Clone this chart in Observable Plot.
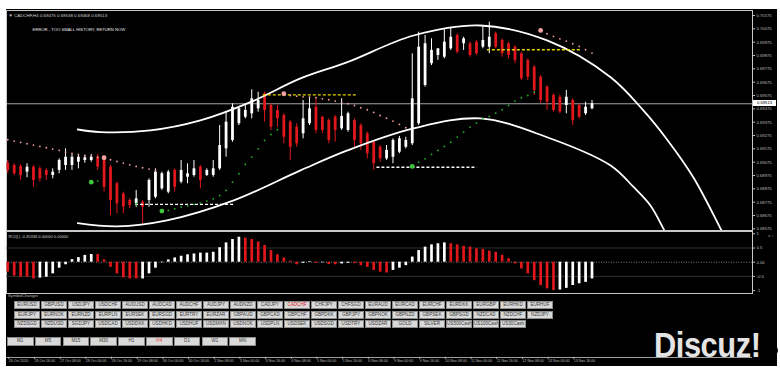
<!DOCTYPE html>
<html><head><meta charset="utf-8">
<script src="https://cdn.jsdelivr.net/npm/d3@7"></script>
<script src="https://cdn.jsdelivr.net/npm/@observablehq/plot@0.6"></script>
<style>
html,body{margin:0;padding:0;background:#fff;}
#root{position:relative;width:780px;height:370px;overflow:hidden;background:#fff;font-family:"Liberation Sans",Arial,sans-serif;}
#win{position:absolute;left:6px;top:9px;width:771px;height:357px;background:#000;}
.abs{position:absolute;}
.btn{position:absolute;box-sizing:border-box;background:#d9d9d9;border:1px solid #8c8c8c;color:#3a3a3a;font-size:4.6px;text-align:center;white-space:nowrap;overflow:hidden;}
</style></head><body>
<div id="root">
  <div id="win"></div>
  <div id="main" class="abs" style="left:6px;top:10px"></div>
  <div id="ind" class="abs" style="left:6px;top:231px"></div>
  <div id="time" class="abs" style="left:6px;top:356px"></div>
  <div id="sc" class="abs" style="left:8px;top:293px;color:#b8b8b8;font-size:4.2px">SymbolChanger</div>
  <div id="wm" class="abs" style="left:654px;top:325px;font:bold 35px 'Liberation Sans',Arial,sans-serif;color:#e4e4e4;transform:scaleX(0.88);transform-origin:left top;letter-spacing:-0.5px">Discuz!</div>
  <div class="abs" style="left:769px;top:346px;width:9px;height:9px;border-radius:50%;background:#000"></div>
</div>
<script>
// ---------- data ----------
const symbolName = "CADCHF,H4";
const open = [0.69067,0.69050,0.69043,0.69000,0.69037,0.69025,0.69013,0.68975,0.69013,0.69050,
0.69050,0.69075,0.69088,0.69088,0.69112,0.69100,0.69037,0.68913,0.68838,0.68788,
0.68763,0.68775,0.68788,0.68812,0.68875,0.68850,0.69013,0.68925,0.68962,0.68975,
0.69037,0.68975,0.68975,0.69025,0.69175,0.69238,0.69363,0.69412,0.69438,0.69475,
0.69588,0.69500,0.69463,0.69425,0.69375,0.69337,0.69288,0.69363,0.69487,0.69412,
0.69388,0.69412,0.69325,0.69313,0.69388,0.69350,0.69288,0.69225,0.69187,0.69100,
0.69112,0.69150,0.69187,0.69213,0.69363,0.69650,0.69813,0.69875,0.69862,0.69925,
0.70025,0.69963,0.69963,0.69975,0.69937,0.69937,0.70038,0.69988,0.69963,0.69937,
0.69888,0.69838,0.69787,0.69712,0.69637,0.69575,0.69562,0.69500,0.69538,0.69500,
0.69438,0.69475];
const high = [0.69088,0.69063,0.69058,0.69063,0.69050,0.69037,0.69025,0.69025,0.69100,0.69175,
0.69130,0.69125,0.69125,0.69133,0.69133,0.69112,0.69050,0.68925,0.68850,0.68800,
0.68863,0.68788,0.68950,0.69025,0.69000,0.69013,0.69025,0.69088,0.69063,0.69088,
0.69050,0.69025,0.69088,0.69350,0.69450,0.69513,0.69487,0.69513,0.69618,0.69600,
0.69600,0.69513,0.69500,0.69438,0.69388,0.69363,0.69538,0.69562,0.69550,0.69418,
0.69400,0.69425,0.69550,0.69450,0.69400,0.69363,0.69300,0.69238,0.69200,0.69200,
0.69250,0.69268,0.69262,0.69888,0.70050,0.70025,0.70000,0.69925,0.70075,0.70087,
0.70038,0.70012,0.69975,0.69988,0.70087,0.70125,0.70050,0.70000,0.69975,0.69950,
0.69900,0.69850,0.69800,0.69725,0.69650,0.69588,0.69575,0.69613,0.69550,0.69513,
0.69525,0.69538];
const low = [0.68988,0.68975,0.68938,0.68958,0.68887,0.68925,0.68938,0.68950,0.68988,0.69013,
0.69013,0.69025,0.69067,0.69075,0.69013,0.68850,0.68675,0.68688,0.68688,0.68725,
0.68737,0.68613,0.68737,0.68800,0.68863,0.68838,0.68850,0.68913,0.68913,0.68962,
0.68875,0.68968,0.68962,0.69013,0.69112,0.69225,0.69350,0.69400,0.69400,0.69450,
0.69375,0.69313,0.69337,0.69213,0.69088,0.69187,0.69250,0.69350,0.69288,0.69288,
0.69213,0.69225,0.69313,0.69300,0.69187,0.69163,0.69100,0.69013,0.69075,0.69088,
0.69063,0.69138,0.69175,0.69200,0.69350,0.69637,0.69800,0.69838,0.69850,0.69913,
0.69888,0.69913,0.69862,0.69875,0.69925,0.69888,0.69925,0.69862,0.69850,0.69813,
0.69688,0.69688,0.69575,0.69513,0.69463,0.69450,0.69438,0.69438,0.69350,0.69400,
0.69425,0.69468];
const close = [0.69013,0.68988,0.68975,0.69037,0.68938,0.68950,0.68975,0.69000,0.69088,0.69112,
0.69112,0.69112,0.69108,0.69112,0.69037,0.68887,0.68788,0.68763,0.68737,0.68750,
0.68800,0.68737,0.68938,0.69000,0.68988,0.69000,0.68887,0.69013,0.68988,0.69025,
0.68938,0.69013,0.69025,0.69200,0.69375,0.69487,0.69475,0.69463,0.69550,0.69538,
0.69463,0.69337,0.69400,0.69262,0.69187,0.69213,0.69400,0.69475,0.69313,0.69313,
0.69238,0.69313,0.69418,0.69438,0.69238,0.69213,0.69138,0.69063,0.69100,0.69163,
0.69238,0.69250,0.69238,0.69550,0.69937,0.69963,0.69913,0.69925,0.69975,0.70012,
0.69900,0.70000,0.69875,0.69888,0.69988,0.70012,0.69937,0.69888,0.69875,0.69838,
0.69700,0.69712,0.69613,0.69538,0.69525,0.69463,0.69450,0.69562,0.69388,0.69412,
0.69487,0.69513];

const priceTicks = [0.70175,0.70075,0.69975,0.69875,0.69775,0.69675,0.69575,0.69475,0.69375,
0.69275,0.69175,0.69075,0.68975,0.68875,0.68775,0.68675,0.68575];

// regression channel curves (bar index, price)
const upperBars = [10.9,14.4,22.2,30.0,37.8,45.6,52.9,63.2,73.6,84.0,93.9,99.0,102.8,106.8,111.0,112.2];
const upperPrice = [0.69320,0.69300,0.69313,0.69388,0.69525,0.69703,0.69825,0.70025,0.70100,0.69988,0.69712,0.69463,0.69238,0.68960,0.68578,0.68460];
const lowerBars = [10.9,17.0,24.8,35.2,45.6,52.9,63.2,73.6,84.0,93.9,97.5,100.1,102.1,103.0];
const lowerPrice = [0.68617,0.68593,0.68638,0.68788,0.69013,0.69163,0.69328,0.69403,0.69262,0.69050,0.68887,0.68750,0.68578,0.68490];

// trailing stop dots
const pinkBars = [0,1,2,3,4,5,6,7,8,9,10,11,12,13,14,15,16,17,18,19,20,21,22,23,
43,44,45,46,47,48,49,50,51,52,53,54,55,56,57,58,59,60,61,62,
83,84,85,86,87,88,89,90,91];
const pinkPrice = [0.69243,0.69233,0.69223,0.69213,0.69203,0.69193,0.69183,0.69173,0.69163,0.69150,
0.69140,0.69133,0.69125,0.69120,0.69113,0.69108,0.69093,0.69080,0.69068,0.69055,0.69043,0.69033,0.69023,0.69013,
0.69588,0.69575,0.69570,0.69565,0.69563,0.69558,0.69550,0.69543,0.69533,0.69523,0.69513,0.69500,0.69483,0.69468,
0.69448,0.69425,0.69405,0.69383,0.69358,0.69333,
0.70063,0.70038,0.70018,0.70000,0.69983,0.69963,0.69943,0.69918,0.69893];
const bigPinkBars = [15,43,83];
const greenBars = [13,14,20,24,25,26,27,28,29,30,31,32,33,34,35,36,37,38,39,40,41,42,
63,64,65,66,67,68,69,70,71,72,73,74,75,76,77,78,79,80,81,82];
const greenPrice = [0.68925,0.68933,0.68763,0.68708,0.68713,0.68725,0.68738,0.68748,0.68758,0.68768,
0.68783,0.68800,0.68825,0.68863,0.68925,0.68988,0.69058,0.69113,0.69175,0.69238,0.69283,0.69318,
0.69043,0.69075,0.69100,0.69133,0.69163,0.69193,0.69225,0.69263,0.69300,0.69338,0.69368,0.69400,
0.69418,0.69443,0.69468,0.69500,0.69533,0.69558,0.69575,0.69600];
const bigGreenBars = [13,24,63];

// horizontal dashed levels
const yellowFrom = [39.8,74.7], yellowTo = [54.4,89.2], yellowPrice = [0.69579,0.69918];
const whiteFrom = [19.9,57.5], whiteTo = [35.2,73.1], whitePrice = [0.68758,0.69037];

// RCI histogram
const rci = [-0.35,-0.49,-0.53,-0.53,-0.59,-0.56,-0.53,-0.41,-0.21,-0.09,
0.09,0.16,0.24,0.27,0.27,0.08,-0.18,-0.41,-0.55,-0.59,
-0.59,-0.59,-0.41,-0.21,-0.02,0.08,0.15,0.21,0.26,0.29,
0.32,0.32,0.35,0.51,0.68,0.80,0.88,0.85,0.80,0.71,
0.59,0.41,0.26,0.15,0.04,-0.09,-0.04,0.02,-0.04,-0.02,
-0.08,-0.09,-0.06,-0.04,-0.05,-0.12,-0.18,-0.29,-0.35,-0.38,
-0.29,-0.21,-0.12,0.18,0.41,0.53,0.61,0.65,0.68,0.65,
0.61,0.56,0.53,0.47,0.45,0.39,0.35,0.24,0.12,-0.06,
-0.24,-0.41,-0.65,-0.82,-0.94,-1.00,-0.98,-0.92,-0.82,-0.76,
-0.71,-0.59];
const rciDir = ("ddddd"+"uuuuuuuuu"+"ddddddd"+"uuuuuuuuuuuuuuuu"+"ddddddddd"+"uu"+"d"+"u"+"dd"+"uu"+"dddddd"+"uuuuuuuuu"+"ddddddddddddddddd"+"uuuuuu").split("");
const rciTicks = [1,0.5,0,-0.5,-1];
const rciTickLabels = ["1","0.5","0.00","-0.5","-1"];
const rciTitle = "RCI(L) -0.35336 0.00000 0.00000";

// time axis
const timeTickBars = [0,4,8,12,16,20,24,28,32,36,40,44,48,52,56,60,64,68,72,76,80,84,88];
const timeLabels = ["26 Oct 2020","26 Oct 16:00","27 Oct 08:00","28 Oct 00:00","28 Oct 16:00","29 Oct 08:00",
"30 Oct 00:00","30 Oct 16:00","2 Nov 08:00","3 Nov 00:00","3 Nov 16:00","4 Nov 08:00","5 Nov 00:00",
"5 Nov 16:00","6 Nov 08:00","9 Nov 00:00","9 Nov 16:00","10 Nov 08:00","11 Nov 00:00","11 Nov 16:00",
"12 Nov 08:00","13 Nov 00:00","13 Nov 16:00"];

// symbol changer
const symbolRows = [
["EURUSD","GBPUSD","USDJPY","USDCHF","AUDUSD","AUDCAD","AUDCHF","AUDJPY","AUDNZD","CADJPY","CADCHF","CHFJPY","CHFSGD","EURAUD","EURCAD","EURCHF","EURDKK","EURGBP","EURHKD","EURHUF"],
["EURJPY","EURNOK","EURNZD","EURPLN","EURSEK","EURSGD","EURTRY","EURZAR","GBPAUD","GBPCAD","GBPCHF","GBPDKK","GBPJPY","GBPNOK","GBPNZD","GBPSEK","GBPSGD","NZDCAD","NZDCHF","NZDJPY"],
["NZDSGD","NZDUSD","SGDJPY","USDCAD","USDDKK","USDHKD","USDHUF","USDMXN","USDNOK","USDPLN","USDSEK","USDSGD","USDTRY","USDZAR","GOLD","SILVER","US500Cash","US100Cash","US30Cash"]];
const activeSymbol = "CADCHF";
const timeframes = ["M1","M5","M15","M30","H1","H4","D1","W1","MN"];
const activeTf = "H4";
const errorMsg = "ERROR - TOO SMALL HISTORY, RETURN NOW";

// ---------- build ----------
const FONT = "Liberation Sans, Arial, sans-serif";
const BULL = "#ffffff", BEAR = "#e0181c";
const candles = open.map((o, i) => ({i, o, h: high[i], l: low[i], c: close[i], up: close[i] >= o}));
const last = candles[candles.length - 1];
const title = `\u25BC ${symbolName} ${last.o.toFixed(5)} ${last.h.toFixed(5)} ${last.l.toFixed(5)} ${last.c.toFixed(5)}`;
const upper = upperBars.map((b, k) => ({b, p: upperPrice[k]}));
const lower = lowerBars.map((b, k) => ({b, p: lowerPrice[k]}));
const pink = pinkBars.map((b, k) => ({b, p: pinkPrice[k]}));
const green = greenBars.map((b, k) => ({b, p: greenPrice[k]}));
const bigPink = pink.filter(d => bigPinkBars.includes(d.b));
const bigGreen = green.filter(d => bigGreenBars.includes(d.b));
const yellowLv = yellowPrice.map((p, k) => ({a: yellowFrom[k], z: yellowTo[k], p}));
const whiteLv = whitePrice.map((p, k) => ({a: whiteFrom[k], z: whiteTo[k], p}));
const xDomain = [-0.2, 116];

const main = Plot.plot({
  width: 770, height: 220,
  marginLeft: 0, marginRight: 24, marginTop: 0, marginBottom: 0,
  style: {background: "transparent", color: "#c0c0c0", fontFamily: FONT, fontSize: "4.4px", overflow: "visible"},
  x: {domain: xDomain, axis: null},
  y: {domain: [0.685625, 0.702125], axis: null},
  marks: [
    Plot.frame({stroke: "#c8c8c8"}),
    Plot.ruleY([last.c], {stroke: "#d0d0d0", strokeWidth: 0.8}),
    Plot.ruleX(candles, {x: "i", y1: "l", y2: "h", stroke: d => d.up ? BULL : BEAR, strokeWidth: 1}),
    Plot.ruleX(candles, {x: "i", y1: "o", y2: "c", stroke: d => d.up ? BULL : BEAR, strokeWidth: 2.8}),
    Plot.line(upper, {x: "b", y: "p", stroke: "#ffffff", strokeWidth: 1.8, curve: "catmull-rom", clip: true}),
    Plot.line(lower, {x: "b", y: "p", stroke: "#ffffff", strokeWidth: 1.8, curve: "catmull-rom", clip: true}),
    Plot.ruleY(yellowLv, {x1: "a", x2: "z", y: "p", stroke: "#e8d400", strokeWidth: 1.3, strokeDasharray: "3,2"}),
    Plot.ruleY(whiteLv, {x1: "a", x2: "z", y: "p", stroke: "#ffffff", strokeWidth: 1.3, strokeDasharray: "3,2"}),
    Plot.dot(pink, {x: "b", y: "p", r: 0.9, fill: "#f29a9a", stroke: null}),
    Plot.dot(green, {x: "b", y: "p", r: 0.9, fill: "#22b422", stroke: null}),
    Plot.dot(bigPink, {x: "b", y: "p", r: 2.4, fill: "#f3a3a3", stroke: null}),
    Plot.dot(bigGreen, {x: "b", y: "p", r: 2.4, fill: "#3ec83e", stroke: null}),
    Plot.axisY(priceTicks, {anchor: "right", tickSize: 2, tickPadding: 2, tickFormat: d => d.toFixed(5), fill: "#bdbdbd", stroke: "#bdbdbd", fontSize: 4.2}),
    Plot.text([title], {frameAnchor: "top-left", dx: 2, dy: 3, textAnchor: "start", fill: "#d0d0d0", fontSize: 4.4}),
    Plot.text([errorMsg], {frameAnchor: "top-left", dx: 26, dy: 17.5, textAnchor: "start", fill: "#e8e8e8", fontSize: 4.2})
  ]
});
document.getElementById("main").appendChild(main);

// current price box on the price axis
const yPix = main.scale("y").apply(last.c);
const box = document.createElement("div");
box.className = "abs";
box.style.cssText = `left:753px;top:${10 + yPix - 3}px;width:23px;height:6px;background:#fff;color:#000;font-size:4.2px;line-height:6px;text-align:center;font-family:${FONT}`;
box.textContent = last.c.toFixed(5);
document.getElementById("root").appendChild(box);

const hist = rci.map((v, i) => ({i, v, up: rciDir[i] === "u"}));
const ind = Plot.plot({
  width: 770, height: 62,
  marginLeft: 0, marginRight: 24, marginTop: 0, marginBottom: 0,
  style: {background: "transparent", color: "#c0c0c0", fontFamily: FONT, fontSize: "4.4px", overflow: "visible"},
  x: {domain: xDomain, axis: null},
  y: {domain: [-1.102, 1.081], axis: null},
  marks: [
    Plot.frame({stroke: "#c8c8c8"}),
    Plot.ruleY([0.5, -0.5], {stroke: "#3a3a3a", strokeWidth: 0.8}),
    Plot.ruleY([0], {stroke: "#9a9a9a", strokeWidth: 0.8, strokeDasharray: "1,1.5"}),
    Plot.ruleX(hist, {x: "i", y1: 0, y2: "v", stroke: d => d.up ? BULL : BEAR, strokeWidth: 2.7}),
    Plot.axisY(rciTicks, {anchor: "right", tickSize: 2, tickPadding: 2, tickFormat: d => rciTickLabels[rciTicks.indexOf(d)], fill: "#bdbdbd", stroke: "#bdbdbd", fontSize: 4.2}),
    Plot.text([rciTitle], {frameAnchor: "top-left", dx: 2, dy: 4, textAnchor: "start", fill: "#d0d0d0", fontSize: 4.0})
  ]
});
document.getElementById("ind").appendChild(ind);

const time = Plot.plot({
  width: 770, height: 12,
  marginLeft: 0, marginRight: 24, marginTop: 1, marginBottom: 10,
  style: {background: "transparent", color: "#bdbdbd", fontFamily: FONT, fontSize: "3.6px", overflow: "visible"},
  x: {domain: xDomain, axis: null},
  y: {domain: [0, 1], axis: null},
  marks: [
    Plot.ruleY([1], {stroke: "#c8c8c8", strokeWidth: 0.8}),
    Plot.axisX(timeTickBars, {anchor: "bottom", tickSize: 2, tickPadding: 0, textAnchor: "start", dx: 1, dy: -1.2,
      tickFormat: d => timeLabels[timeTickBars.indexOf(d)], fill: "#bdbdbd", stroke: "#bdbdbd", fontSize: 3.6})
  ]
});
document.getElementById("time").appendChild(time);

// symbol changer buttons
const root = document.getElementById("root");
const rowTop = [301, 310.5, 320];
symbolRows.forEach((row, r) => row.forEach((s, k) => {
  const b = document.createElement("div");
  b.className = "btn";
  b.style.left = (14 + k * 27) + "px";
  b.style.top = rowTop[r] + "px";
  b.style.width = "26px";
  b.style.height = "8px";
  b.style.lineHeight = "6px";
  if (s === activeSymbol) b.style.color = "#e02020";
  b.textContent = s;
  root.appendChild(b);
}));
timeframes.forEach((t, k) => {
  const b = document.createElement("div");
  b.className = "btn";
  b.style.left = (7 + k * 27.8) + "px";
  b.style.top = "337px";
  b.style.width = "26.5px";
  b.style.height = "8.5px";
  b.style.lineHeight = "6.5px";
  if (t === activeTf) b.style.color = "#e84040";
  b.textContent = t;
  root.appendChild(b);
});
</script>
</body></html>
